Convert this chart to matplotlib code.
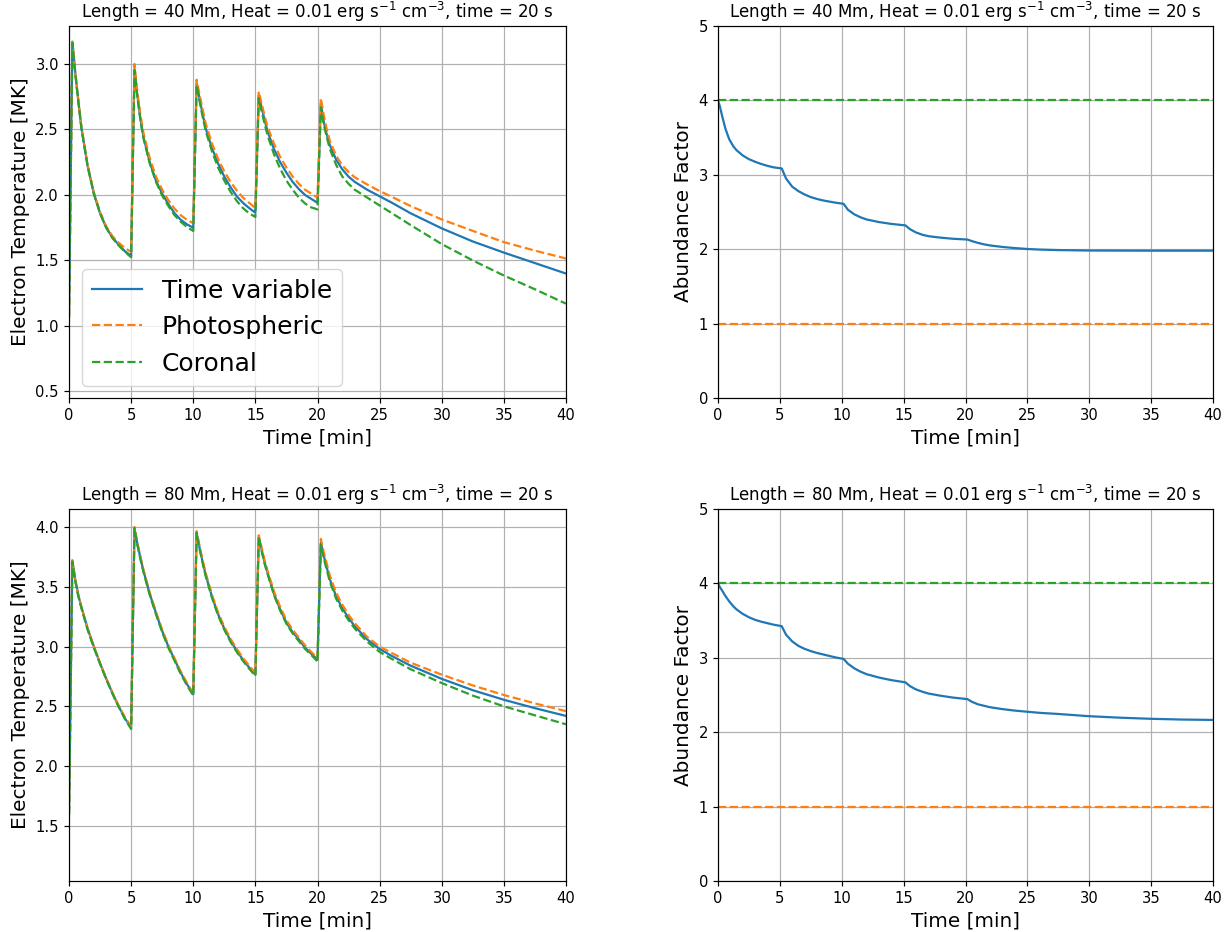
import matplotlib
matplotlib.use("Agg")
import matplotlib.pyplot as plt

# ---------------- data ----------------
time_temp = [0.0, 0.27, 0.5, 0.75, 1.0, 1.5, 2.0, 2.5, 3.0, 3.5, 4.0, 4.5,
             5.0, 5.27, 5.5, 5.75, 6.0, 6.5, 7.0, 7.5, 8.0, 8.5, 9.0, 9.5,
             10.0, 10.27, 10.5, 10.75, 11.0, 11.5, 12.0, 12.5, 13.0, 13.5, 14.0, 14.5,
             15.0, 15.27, 15.5, 15.75, 16.0, 16.5, 17.0, 17.5, 18.0, 18.5, 19.0, 19.5,
             20.0, 20.27, 20.5, 20.75, 21.0, 21.5, 22.0, 22.5, 23.0, 24.0, 25.0, 26.0,
             27.5, 30.0, 32.5, 35.0, 37.5, 40.0]

# Length = 40 Mm
temp40_var = [1.07, 3.17, 2.94, 2.72, 2.51, 2.22, 2.01, 1.86, 1.75, 1.675, 1.62, 1.57,
              1.535, 2.96, 2.76, 2.58, 2.44, 2.25, 2.11, 2.01, 1.93, 1.86, 1.81, 1.775,
              1.75, 2.85, 2.74, 2.62, 2.51, 2.36, 2.24, 2.14, 2.06, 1.99, 1.94, 1.90,
              1.865, 2.76, 2.67, 2.57, 2.48, 2.35, 2.25, 2.17, 2.10, 2.045, 2.00, 1.97,
              1.94, 2.70, 2.56, 2.46, 2.38, 2.27, 2.195, 2.14, 2.10, 2.04, 1.99, 1.94,
              1.86, 1.745, 1.645, 1.56, 1.48, 1.40]
temp40_pho = [1.07, 3.17, 2.94, 2.72, 2.52, 2.23, 2.02, 1.87, 1.76, 1.685, 1.635, 1.595,
              1.565, 3.00, 2.79, 2.61, 2.47, 2.28, 2.14, 2.04, 1.96, 1.895, 1.845, 1.81,
              1.785, 2.88, 2.77, 2.655, 2.545, 2.395, 2.275, 2.18, 2.10, 2.035, 1.98, 1.94,
              1.90, 2.79, 2.70, 2.60, 2.515, 2.39, 2.29, 2.21, 2.14, 2.085, 2.04, 2.01,
              1.98, 2.74, 2.61, 2.50, 2.41, 2.30, 2.225, 2.175, 2.135, 2.08, 2.03, 1.985,
              1.915, 1.813, 1.726, 1.64, 1.575, 1.515]
temp40_cor = [1.07, 3.16, 2.93, 2.71, 2.51, 2.22, 2.01, 1.86, 1.75, 1.67, 1.615, 1.565,
              1.525, 2.95, 2.75, 2.57, 2.43, 2.24, 2.10, 1.995, 1.915, 1.845, 1.795, 1.755,
              1.725, 2.84, 2.72, 2.60, 2.49, 2.335, 2.21, 2.11, 2.025, 1.955, 1.90, 1.86,
              1.832, 2.74, 2.64, 2.54, 2.45, 2.31, 2.20, 2.11, 2.04, 1.98, 1.935, 1.905,
              1.89, 2.67, 2.54, 2.44, 2.35, 2.23, 2.14, 2.085, 2.04, 1.98, 1.92, 1.86,
              1.77, 1.625, 1.50, 1.385, 1.28, 1.17]

# Length = 80 Mm
temp80_var = [1.60, 3.72, 3.56, 3.43, 3.33, 3.15, 3.00, 2.86, 2.73, 2.61, 2.50, 2.40,
              2.32, 3.98, 3.86, 3.74, 3.63, 3.44, 3.28, 3.13, 3.00, 2.89, 2.78, 2.685,
              2.60, 3.95, 3.83, 3.71, 3.60, 3.42, 3.27, 3.15, 3.05, 2.965, 2.89, 2.825,
              2.765, 3.91, 3.81, 3.70, 3.61, 3.44, 3.31, 3.20, 3.12, 3.06, 2.99, 2.94,
              2.89, 3.87, 3.76, 3.66, 3.56, 3.42, 3.32, 3.24, 3.17, 3.06, 2.98, 2.92,
              2.84, 2.73, 2.635, 2.555, 2.485, 2.42]
temp80_pho = [1.60, 3.72, 3.56, 3.43, 3.33, 3.15, 3.00, 2.86, 2.735, 2.615, 2.505, 2.41,
              2.33, 4.00, 3.87, 3.75, 3.64, 3.45, 3.29, 3.14, 3.01, 2.90, 2.79, 2.695,
              2.61, 3.965, 3.845, 3.725, 3.615, 3.435, 3.285, 3.165, 3.065, 2.98, 2.905, 2.84,
              2.78, 3.93, 3.83, 3.72, 3.625, 3.46, 3.33, 3.22, 3.14, 3.075, 3.01, 2.955,
              2.905, 3.90, 3.79, 3.69, 3.59, 3.45, 3.35, 3.265, 3.195, 3.08, 3.00, 2.945,
              2.865, 2.765, 2.675, 2.595, 2.525, 2.46]
temp80_cor = [1.60, 3.71, 3.55, 3.42, 3.32, 3.14, 2.99, 2.855, 2.725, 2.605, 2.495, 2.395,
              2.31, 3.99, 3.85, 3.73, 3.62, 3.43, 3.27, 3.12, 2.99, 2.88, 2.77, 2.675,
              2.59, 3.95, 3.82, 3.70, 3.59, 3.41, 3.26, 3.14, 3.04, 2.955, 2.88, 2.815,
              2.755, 3.92, 3.80, 3.69, 3.60, 3.43, 3.30, 3.19, 3.11, 3.045, 2.98, 2.93,
              2.875, 3.85, 3.74, 3.64, 3.54, 3.40, 3.30, 3.22, 3.15, 3.04, 2.955, 2.895,
              2.81, 2.695, 2.59, 2.50, 2.425, 2.35]

# Abundance factor
time_ab40 = [0.0, 0.15, 0.35, 0.6, 0.9, 1.25, 1.5, 2.0, 2.5, 3.0, 3.5, 4.0, 4.5, 5.15,
             5.5, 6.0, 6.5, 7.0, 7.5, 8.0, 8.5, 9.0, 9.5, 10.15,
             10.5, 11.0, 11.5, 12.0, 13.0, 14.0, 15.15,
             15.5, 16.0, 16.5, 17.0, 18.0, 19.0, 20.15,
             20.5, 21.0, 21.5, 22.0, 23.0, 24.0, 25.0, 26.0, 27.5, 30.0, 35.0, 40.0]
abund40 = [4.0, 3.92, 3.78, 3.62, 3.48, 3.38, 3.33, 3.26, 3.21, 3.175, 3.145, 3.12, 3.10, 3.085,
           2.95, 2.84, 2.78, 2.735, 2.70, 2.675, 2.655, 2.64, 2.625, 2.61,
           2.53, 2.47, 2.43, 2.40, 2.365, 2.34, 2.32,
           2.27, 2.225, 2.195, 2.175, 2.155, 2.14, 2.13,
           2.11, 2.085, 2.065, 2.05, 2.03, 2.015, 2.003, 1.995, 1.988, 1.982, 1.98, 1.98]

time_ab80 = [0.0, 0.15, 0.35, 0.6, 0.9, 1.25, 1.5, 2.0, 2.5, 3.0, 3.5, 4.0, 4.5, 5.15,
             5.5, 6.0, 6.5, 7.0, 7.5, 8.0, 8.5, 9.0, 9.5, 10.15,
             10.5, 11.0, 11.5, 12.0, 13.0, 14.0, 15.15,
             15.5, 16.0, 16.5, 17.0, 18.0, 19.0, 20.15,
             20.5, 21.0, 22.0, 23.0, 24.0, 25.0, 26.0, 27.5, 30.0, 32.5, 35.0, 37.5, 40.0]
abund80 = [4.0, 3.95, 3.90, 3.83, 3.76, 3.69, 3.65, 3.59, 3.545, 3.51, 3.485, 3.465, 3.445, 3.425,
           3.31, 3.22, 3.16, 3.12, 3.09, 3.065, 3.045, 3.025, 3.005, 2.985,
           2.92, 2.86, 2.815, 2.78, 2.735, 2.70, 2.67,
           2.62, 2.575, 2.545, 2.52, 2.49, 2.465, 2.445,
           2.41, 2.375, 2.335, 2.31, 2.29, 2.275, 2.26, 2.245, 2.215, 2.195, 2.18, 2.17, 2.165]

flat_time = [0.0, 40.0]
abund_pho = [1.0, 1.0]
abund_cor = [4.0, 4.0]

labels = ["Time variable", "Photospheric", "Coronal"]
lengths = [40, 80]
title_fmt = "Length = {} Mm, Heat = 0.01 erg s$^{{-1}}$ cm$^{{-3}}$, time = 20 s"

# ---------------- plot ----------------
S = 1.07
plt.rcParams.update({
    "axes.linewidth": 0.8 * S,
    "grid.linewidth": 0.8 * S,
    "xtick.major.size": 3.5 * S,
    "ytick.major.size": 3.5 * S,
    "xtick.major.width": 0.8 * S,
    "ytick.major.width": 0.8 * S,
})

fig = plt.figure(figsize=(12.32, 9.32), dpi=100)
col_l = [69 / 1232, 718 / 1232]
widths = [497 / 1232, 495 / 1232]
row_b = [1 - 398 / 932, 1 - 881 / 932]
height = 372 / 932

C0, C1, C2 = "#1f77b4", "#ff7f0e", "#2ca02c"
TICK, LAB, TIT, LEG = 10.6, 14.4, 12, 18
LW = 1.6

temps = [(temp40_var, temp40_pho, temp40_cor), (temp80_var, temp80_pho, temp80_cor)]
abunds = [(time_ab40, abund40), (time_ab80, abund80)]
tlims = [(0.45, 3.29), (1.04, 4.15)]

for r in range(2):
    axT = fig.add_axes([col_l[0], row_b[r], widths[0], height])
    v, p, c = temps[r]
    axT.plot(time_temp, v, color=C0, lw=LW, label=labels[0])
    axT.plot(time_temp, p, color=C1, lw=LW, ls="--", label=labels[1])
    axT.plot(time_temp, c, color=C2, lw=LW, ls="--", label=labels[2])
    axT.set_xlim(0, 40)
    axT.set_ylim(*tlims[r])
    axT.grid(True)
    axT.set_xlabel("Time [min]", fontsize=LAB)
    axT.set_ylabel("Electron Temperature [MK]", fontsize=LAB)
    axT.set_title(title_fmt.format(lengths[r]), fontsize=TIT)
    axT.tick_params(labelsize=TICK)
    if r == 0:
        axT.legend(loc="lower left", fontsize=LEG)

    axA = fig.add_axes([col_l[1], row_b[r], widths[1], height])
    ta, av = abunds[r]
    axA.plot(ta, av, color=C0, lw=LW)
    axA.plot(flat_time, abund_pho, color=C1, lw=LW, ls="--")
    axA.plot(flat_time, abund_cor, color=C2, lw=LW, ls="--")
    axA.set_xlim(0, 40)
    axA.set_ylim(0, 5)
    axA.grid(True)
    axA.set_xlabel("Time [min]", fontsize=LAB)
    axA.set_ylabel("Abundance Factor", fontsize=LAB)
    axA.set_title(title_fmt.format(lengths[r]), fontsize=TIT)
    axA.tick_params(labelsize=TICK)

fig.savefig("out.png", dpi=100)
